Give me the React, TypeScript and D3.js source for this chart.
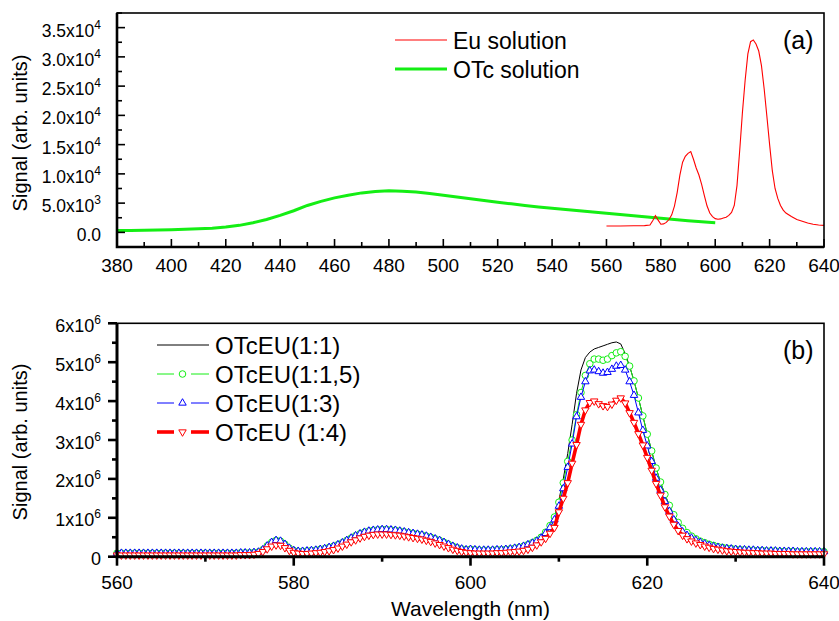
import React, { Component } from "react";
import * as d3 from "d3";

// ---- panel (a) data ----
const otcWl = [380, 385, 390, 395, 400, 405, 410, 415, 420, 425, 430, 435, 440, 445, 450, 455, 460, 465, 470, 475, 480, 485, 490, 495, 500, 505, 510, 515, 520, 525, 530, 535, 540, 545, 550, 555, 560, 565, 570, 575, 580, 585, 590, 595, 600];
const otcSignal = [300, 330, 380, 420, 470, 530, 600, 720, 900, 1200, 1650, 2200, 2900, 3700, 4600, 5300, 5900, 6350, 6750, 7000, 7100, 7050, 6900, 6650, 6350, 6050, 5750, 5450, 5150, 4880, 4600, 4350, 4120, 3900, 3680, 3470, 3260, 3050, 2830, 2620, 2410, 2200, 2000, 1820, 1660];

const euWl = [560, 565, 570, 574, 576, 577, 578, 579, 580, 581, 582, 583, 584, 585, 586, 587, 588, 589, 590, 591, 592, 593, 594, 595, 596, 597, 598, 599, 600, 601, 602, 603, 604, 605, 606, 607, 608, 609, 610, 611, 612, 613, 614, 615, 616, 617, 618, 619, 620, 621, 622, 623, 624, 625, 626, 628, 630, 632, 634, 636, 638, 640];
const euSignal = [1100, 1100, 1120, 1150, 1250, 2000, 2850, 2100, 1400, 1450, 1700, 2200, 3000, 4500, 6800, 9800, 12000, 13000, 13500, 13800, 12500, 11000, 9800, 8200, 6300, 4500, 3300, 2700, 2350, 2250, 2300, 2450, 2600, 2900, 3400, 4600, 8000, 14000, 20500, 26000, 30500, 32600, 32900, 32200, 31000, 28500, 24500, 19800, 15000, 10500, 7500, 5800, 4600, 3800, 3300, 2700, 2200, 1900, 1600, 1400, 1250, 1200];

const aXTicks = [380, 400, 420, 440, 460, 480, 500, 520, 540, 560, 580, 600, 620, 640];
const aYTicks = [0, 5000, 10000, 15000, 20000, 25000, 30000, 35000];
const aYTickBase = ["0.0", "5.0x10", "1.0x10", "1.5x10", "2.0x10", "2.5x10", "3.0x10", "3.5x10"];
const aYTickExp = ["", "3", "4", "4", "4", "4", "4", "4"];

// ---- panel (b) data, signal in units of 10^6, wavelength 560..640 step 0.5 ----
const bBlack = [
  0.09, 0.09, 0.09, 0.09, 0.09, 0.09, 0.09, 0.09, 0.09, 0.09,
  0.09, 0.09, 0.09, 0.09, 0.09, 0.09, 0.09, 0.09, 0.09, 0.09,
  0.09, 0.09, 0.09, 0.09, 0.09, 0.09, 0.09, 0.09, 0.10, 0.10,
  0.10, 0.11, 0.12, 0.18, 0.28, 0.37, 0.42, 0.40, 0.32, 0.22,
  0.16, 0.14, 0.14, 0.15, 0.16, 0.17, 0.19, 0.21, 0.24, 0.27,
  0.31, 0.36, 0.42, 0.48, 0.54, 0.59, 0.63, 0.66, 0.68, 0.69,
  0.70, 0.70, 0.69, 0.68, 0.66, 0.64, 0.62, 0.60, 0.58, 0.56,
  0.53, 0.50, 0.46, 0.42, 0.37, 0.32, 0.27, 0.23, 0.20, 0.18,
  0.19, 0.18, 0.17, 0.17, 0.17, 0.17, 0.18, 0.18, 0.19, 0.20,
  0.22, 0.24, 0.27, 0.31, 0.36, 0.42, 0.50, 0.63, 0.80, 1.02,
  1.45, 2.00, 2.65, 3.40, 4.20, 4.80, 5.12, 5.26, 5.34, 5.38,
  5.42, 5.46, 5.50, 5.52, 5.47, 5.22, 4.90, 4.52, 4.08, 3.62,
  3.15, 2.72, 2.28, 1.92, 1.60, 1.32, 1.08, 0.88, 0.73, 0.62,
  0.53, 0.46, 0.40, 0.36, 0.32, 0.29, 0.26, 0.24, 0.22, 0.21,
  0.19, 0.18, 0.18, 0.17, 0.17, 0.16, 0.16, 0.15, 0.15, 0.15,
  0.14, 0.14, 0.14, 0.14, 0.13, 0.13, 0.13, 0.13, 0.13, 0.13,
  0.13];
const bGreen = [
  0.09, 0.09, 0.09, 0.09, 0.09, 0.09, 0.09, 0.09, 0.09, 0.09,
  0.09, 0.09, 0.09, 0.09, 0.09, 0.09, 0.09, 0.09, 0.09, 0.09,
  0.09, 0.09, 0.09, 0.09, 0.09, 0.09, 0.09, 0.09, 0.10, 0.10,
  0.10, 0.11, 0.12, 0.18, 0.28, 0.37, 0.42, 0.40, 0.32, 0.22,
  0.16, 0.14, 0.14, 0.15, 0.16, 0.17, 0.19, 0.21, 0.24, 0.27,
  0.31, 0.36, 0.42, 0.48, 0.54, 0.59, 0.63, 0.66, 0.68, 0.69,
  0.70, 0.70, 0.69, 0.68, 0.66, 0.64, 0.62, 0.60, 0.58, 0.56,
  0.53, 0.50, 0.46, 0.42, 0.37, 0.32, 0.27, 0.23, 0.20, 0.18,
  0.19, 0.18, 0.17, 0.17, 0.17, 0.17, 0.18, 0.18, 0.19, 0.20,
  0.22, 0.24, 0.27, 0.31, 0.36, 0.42, 0.50, 0.63, 0.80, 1.02,
  1.40, 1.90, 2.45, 3.00, 3.65, 4.22, 4.66, 4.96, 5.08, 5.08,
  5.05, 5.08, 5.17, 5.24, 5.27, 5.15, 4.90, 4.52, 4.08, 3.62,
  3.15, 2.72, 2.28, 1.92, 1.60, 1.32, 1.08, 0.88, 0.73, 0.62,
  0.53, 0.46, 0.40, 0.36, 0.32, 0.29, 0.26, 0.24, 0.22, 0.21,
  0.19, 0.18, 0.18, 0.17, 0.17, 0.16, 0.16, 0.15, 0.15, 0.15,
  0.14, 0.14, 0.14, 0.14, 0.13, 0.13, 0.13, 0.13, 0.13, 0.13,
  0.13];
const bBlue = [
  0.09, 0.09, 0.09, 0.09, 0.09, 0.09, 0.09, 0.09, 0.09, 0.09,
  0.09, 0.09, 0.09, 0.09, 0.09, 0.09, 0.09, 0.09, 0.09, 0.09,
  0.09, 0.09, 0.09, 0.09, 0.09, 0.09, 0.09, 0.09, 0.10, 0.10,
  0.10, 0.11, 0.12, 0.18, 0.28, 0.37, 0.42, 0.40, 0.32, 0.22,
  0.16, 0.14, 0.14, 0.15, 0.16, 0.17, 0.19, 0.21, 0.24, 0.27,
  0.31, 0.36, 0.42, 0.48, 0.54, 0.59, 0.63, 0.66, 0.68, 0.69,
  0.70, 0.70, 0.69, 0.68, 0.66, 0.64, 0.62, 0.60, 0.58, 0.56,
  0.53, 0.50, 0.46, 0.42, 0.37, 0.32, 0.27, 0.23, 0.20, 0.18,
  0.19, 0.18, 0.17, 0.17, 0.17, 0.17, 0.18, 0.18, 0.19, 0.20,
  0.22, 0.24, 0.27, 0.31, 0.35, 0.40, 0.48, 0.60, 0.75, 0.95,
  1.30, 1.75, 2.30, 2.90, 3.60, 4.10, 4.50, 4.78, 4.80, 4.76,
  4.72, 4.74, 4.82, 4.90, 4.92, 4.80, 4.50, 4.15, 3.70, 3.25,
  2.85, 2.45, 2.02, 1.71, 1.42, 1.17, 0.95, 0.78, 0.64, 0.55,
  0.48, 0.42, 0.37, 0.33, 0.29, 0.26, 0.24, 0.22, 0.21, 0.20,
  0.19, 0.18, 0.18, 0.17, 0.17, 0.16, 0.16, 0.15, 0.15, 0.15,
  0.14, 0.14, 0.14, 0.14, 0.13, 0.13, 0.13, 0.13, 0.13, 0.13,
  0.13];
const bRed = [
  0.04, 0.04, 0.04, 0.04, 0.04, 0.04, 0.04, 0.04, 0.04, 0.04,
  0.04, 0.04, 0.04, 0.04, 0.04, 0.04, 0.04, 0.04, 0.04, 0.04,
  0.04, 0.04, 0.04, 0.04, 0.04, 0.04, 0.04, 0.04, 0.05, 0.05,
  0.05, 0.06, 0.08, 0.13, 0.20, 0.27, 0.30, 0.29, 0.23, 0.16,
  0.11, 0.09, 0.08, 0.08, 0.09, 0.10, 0.11, 0.13, 0.15, 0.18,
  0.22, 0.27, 0.32, 0.38, 0.43, 0.48, 0.52, 0.55, 0.57, 0.58,
  0.58, 0.58, 0.57, 0.56, 0.55, 0.53, 0.51, 0.49, 0.47, 0.45,
  0.42, 0.39, 0.35, 0.31, 0.27, 0.23, 0.19, 0.16, 0.13, 0.11,
  0.10, 0.09, 0.09, 0.09, 0.09, 0.09, 0.10, 0.10, 0.11, 0.12,
  0.13, 0.14, 0.16, 0.19, 0.24, 0.30, 0.38, 0.47, 0.60, 0.75,
  1.15, 1.50, 1.90, 2.40, 2.88, 3.40, 3.77, 3.96, 4.00, 3.93,
  3.88, 3.86, 3.92, 4.02, 4.08, 3.95, 3.70, 3.45, 3.16, 2.87,
  2.55, 2.22, 1.88, 1.58, 1.28, 1.04, 0.83, 0.67, 0.55, 0.46,
  0.40, 0.35, 0.31, 0.27, 0.24, 0.21, 0.19, 0.17, 0.15, 0.14,
  0.13, 0.12, 0.11, 0.11, 0.10, 0.10, 0.09, 0.09, 0.09, 0.08,
  0.08, 0.08, 0.08, 0.07, 0.07, 0.07, 0.07, 0.07, 0.07, 0.07,
  0.07];
const bWl = d3.range(bRed.length).map(i => 560 + i * 0.5);

const bXTicks = [560, 580, 600, 620, 640];
const bYTicks = [0, 1, 2, 3, 4, 5, 6];
const bLegend = ["OTcEU(1:1)", "OTcEU(1:1,5)", "OTcEU(1:3)", "OTcEU (1:4)"];

const FONT = "'Liberation Sans', Arial, Helvetica, sans-serif";
const GREEN = "#14ee14";

class App extends Component {
  svgRef = React.createRef<SVGSVGElement>();

  componentDidMount() {
    this.drawChart();
  }
  componentDidUpdate() {
    this.drawChart();
  }

  drawChart() {
    const svg = d3.select(this.svgRef.current);
    svg.selectAll("*").remove();
    svg.style("font-family", FONT);

    const left = 117, right = 824;

    // ================= panel (a) =================
    const aTop = 13, aBottom = 247;
    const xa = d3.scaleLinear().domain([380, 640]).range([left, right]);
    const ya = d3.scaleLinear().domain([-2500, 37500]).range([aBottom, aTop]);
    const ga = svg.append("g");

    const lineA = d3.line<[number, number]>().x(d => xa(d[0])).y(d => ya(d[1]));
    ga.append("path")
      .attr("d", lineA(otcWl.map((w, i) => [w, otcSignal[i]] as [number, number])))
      .attr("fill", "none").attr("stroke", GREEN).attr("stroke-width", 3);
    ga.append("path")
      .attr("d", lineA(euWl.map((w, i) => [w, euSignal[i]] as [number, number])))
      .attr("fill", "none").attr("stroke", "#ff0000").attr("stroke-width", 1.1);

    // ticks (inward)
    d3.range(380, 641, 10).forEach(v => {
      const major = v % 20 === 0;
      ga.append("line").attr("x1", xa(v)).attr("x2", xa(v))
        .attr("y1", aBottom).attr("y2", aBottom - (major ? 8 : 5))
        .attr("stroke", "#000").attr("stroke-width", 1.6);
    });
    d3.range(-2500, 37501, 2500).forEach(v => {
      const major = v % 5000 === 0;
      ga.append("line").attr("x1", left).attr("x2", left + (major ? 8 : 5))
        .attr("y1", ya(v)).attr("y2", ya(v))
        .attr("stroke", "#000").attr("stroke-width", 1.6);
    });
    aXTicks.forEach(v => {
      ga.append("text").attr("x", xa(v)).attr("y", 272)
        .attr("text-anchor", "middle").attr("font-size", 19).text(v);
    });
    aYTicks.forEach((v, i) => {
      const t = ga.append("text").attr("x", 101).attr("y", ya(v) + 9)
        .attr("text-anchor", "end").attr("font-size", 17.5);
      t.append("tspan").text(aYTickBase[i]);
      if (aYTickExp[i]) t.append("tspan").attr("dy", -8).attr("font-size", 12).text(aYTickExp[i]);
    });
    // frame
    ga.append("rect").attr("x", left).attr("y", aTop).attr("width", right - left).attr("height", aBottom - aTop)
      .attr("fill", "none").attr("stroke", "#000").attr("stroke-width", 1.6);
    ga.append("path").attr("d", `M${left},${aTop}V${aBottom}H${right}`)
      .attr("fill", "none").attr("stroke", "#000").attr("stroke-width", 2.6);

    ga.append("text").attr("transform", `translate(27,${(aTop + aBottom) / 2 + 3}) rotate(-90)`)
      .attr("text-anchor", "middle").attr("font-size", 20).text("Signal (arb. units)");

    // legend (a)
    ga.append("line").attr("x1", 395).attr("x2", 447).attr("y1", 40).attr("y2", 40)
      .attr("stroke", "#ff0000").attr("stroke-width", 1.1);
    ga.append("text").attr("x", 453).attr("y", 49).attr("font-size", 23).text("Eu solution");
    ga.append("line").attr("x1", 395).attr("x2", 447).attr("y1", 69).attr("y2", 69)
      .attr("stroke", GREEN).attr("stroke-width", 3);
    ga.append("text").attr("x", 453).attr("y", 78).attr("font-size", 23).text("OTc solution");
    ga.append("text").attr("x", 783).attr("y", 49).attr("font-size", 25).text("(a)");

    // ================= panel (b) =================
    const bTop = 323.3, bBottom = 556.7;
    const xb = d3.scaleLinear().domain([560, 640]).range([left, right]);
    const yb = d3.scaleLinear().domain([0, 6]).range([bBottom, bTop]);
    const gb = svg.append("g");

    const series = [
      { vals: bBlack, color: "#000000", width: 1, marker: "none" },
      { vals: bGreen, color: GREEN, width: 1, marker: "circle" },
      { vals: bBlue, color: "#0000ff", width: 1, marker: "up" },
      { vals: bRed, color: "#ff0000", width: 3.6, marker: "down" },
    ];
    const lineB = d3.line<number>().x((d, i) => xb(bWl[i])).y(d => yb(d));
    const triSym = d3.symbol().type(d3.symbolTriangle).size(24);

    const drawMarker = (g: any, kind: string, x: number, y: number, color: string) => {
      if (kind === "circle") {
        g.append("circle").attr("cx", x).attr("cy", y).attr("r", 3.3)
          .attr("fill", "#fff").attr("stroke", color).attr("stroke-width", 1);
      } else if (kind === "up" || kind === "down") {
        g.append("path").attr("d", triSym())
          .attr("transform", `translate(${x},${y})${kind === "down" ? " rotate(180)" : ""}`)
          .attr("fill", "#fff").attr("stroke", color).attr("stroke-width", 1);
      }
    };

    series.forEach(s => {
      gb.append("path").attr("d", lineB(s.vals))
        .attr("fill", "none").attr("stroke", s.color).attr("stroke-width", s.width)
        .attr("stroke-linejoin", "round");
      if (s.marker !== "none") {
        const mg = gb.append("g");
        s.vals.forEach((v, i) => drawMarker(mg, s.marker, xb(bWl[i]), yb(v), s.color));
      }
    });

    // ticks (outward)
    d3.range(560, 641, 10).forEach(v => {
      const major = v % 20 === 0;
      gb.append("line").attr("x1", xb(v)).attr("x2", xb(v))
        .attr("y1", bBottom).attr("y2", bBottom + (major ? 9 : 5))
        .attr("stroke", "#000").attr("stroke-width", 2.6);
    });
    d3.range(0, 6.01, 0.5).forEach(v => {
      const major = Math.abs(v - Math.round(v)) < 1e-6;
      gb.append("line").attr("x1", left).attr("x2", left - (major ? 9 : 5))
        .attr("y1", yb(v)).attr("y2", yb(v))
        .attr("stroke", "#000").attr("stroke-width", 2.6);
    });
    bXTicks.forEach(v => {
      gb.append("text").attr("x", xb(v)).attr("y", 589)
        .attr("text-anchor", "middle").attr("font-size", 19).text(v);
    });
    bYTicks.forEach(v => {
      const t = gb.append("text").attr("x", 101).attr("y", yb(v) + 8.5)
        .attr("text-anchor", "end").attr("font-size", 18);
      if (v === 0) {
        t.text("0");
      } else {
        t.append("tspan").text(`${v}x10`);
        t.append("tspan").attr("dy", -8).attr("font-size", 12).text("6");
      }
    });
    gb.append("rect").attr("x", left).attr("y", bTop).attr("width", right - left).attr("height", bBottom - bTop)
      .attr("fill", "none").attr("stroke", "#000").attr("stroke-width", 1.6);
    gb.append("path").attr("d", `M${left},${bTop}V${bBottom}H${right}`)
      .attr("fill", "none").attr("stroke", "#000").attr("stroke-width", 3);

    gb.append("text").attr("transform", `translate(27,${(bTop + bBottom) / 2 + 2}) rotate(-90)`)
      .attr("text-anchor", "middle").attr("font-size", 20).text("Signal (arb. units)");
    gb.append("text").attr("x", (left + right) / 2).attr("y", 616)
      .attr("text-anchor", "middle").attr("font-size", 21).text("Wavelength (nm)");

    // legend (b)
    series.forEach((s, i) => {
      const ly = 345 + i * 29;
      if (s.marker === "none") {
        gb.append("line").attr("x1", 157).attr("x2", 209).attr("y1", ly).attr("y2", ly)
          .attr("stroke", s.color).attr("stroke-width", s.width);
      } else {
        gb.append("line").attr("x1", 157).attr("x2", 174).attr("y1", ly).attr("y2", ly)
          .attr("stroke", s.color).attr("stroke-width", s.width);
        gb.append("line").attr("x1", 191).attr("x2", 209).attr("y1", ly).attr("y2", ly)
          .attr("stroke", s.color).attr("stroke-width", s.width);
        drawMarker(gb, s.marker, 182.5, ly, s.color);
      }
      gb.append("text").attr("x", 215).attr("y", ly + 9).attr("font-size", 24).text(bLegend[i]);
    });
    gb.append("text").attr("x", 783).attr("y", 359).attr("font-size", 25).text("(b)");
  }

  render() {
    return (
      <svg ref={this.svgRef} width={839} height={621}
        style={{ position: "absolute", left: 0, top: 0, background: "#fff" }} />
    );
  }
}

export default App;
